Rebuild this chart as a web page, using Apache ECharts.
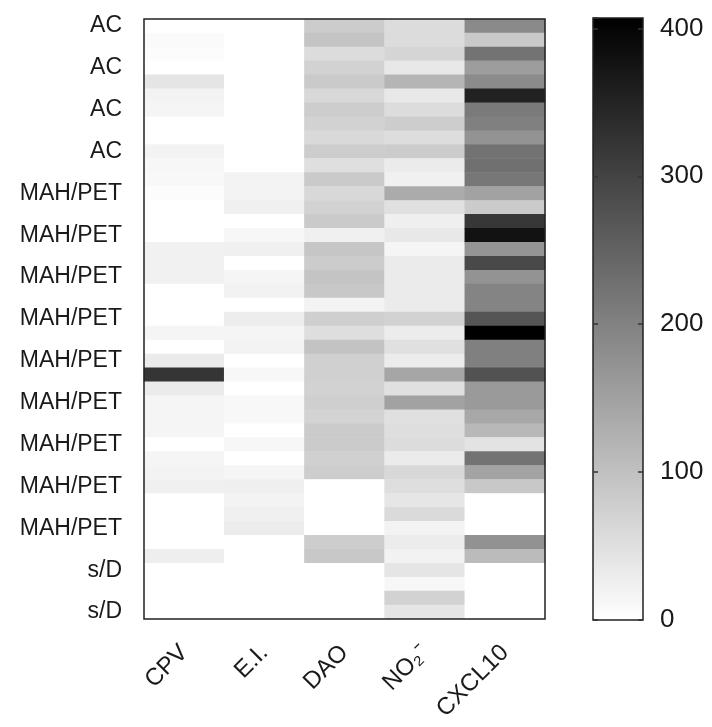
<!DOCTYPE html>
<html>
<head>
<meta charset="utf-8">
<script src="https://cdn.jsdelivr.net/npm/echarts@6/dist/echarts.min.js"></script>
<style>
  html, body { margin: 0; padding: 0; background: #fff; }
  #chart { width: 712px; height: 727px; }
</style>
</head>
<body>
<div id="chart"></div>
<script>
// columns (x axis)
const columns = ['CPV', 'E.I.', 'DAO', 'NO₂⁻', 'CXCL10'];

// 43 samples, top to bottom; only every third name is printed
const rowGroups = [
  'AC', 'AC', 'AC', 'AC', 'AC', 'AC', 'AC', 'AC', 'AC', 'AC', 'AC', 'AC',
  'MAH/PET', 'MAH/PET', 'MAH/PET', 'MAH/PET', 'MAH/PET', 'MAH/PET', 'MAH/PET', 'MAH/PET', 'MAH/PET',
  'MAH/PET', 'MAH/PET', 'MAH/PET', 'MAH/PET', 'MAH/PET', 'MAH/PET', 'MAH/PET', 'MAH/PET', 'MAH/PET',
  'MAH/PET', 'MAH/PET', 'MAH/PET', 'MAH/PET', 'MAH/PET', 'MAH/PET', 'MAH/PET', 'MAH/PET', 'MAH/PET',
  's/D', 's/D', 's/D', 's/D'
];

// values per column, one entry per row
const cpv = [0, 8, 5, 0, 41, 19, 16, 0, 0, 19, 13, 11, 5, 0, 0, 0, 22, 22, 22, 0, 0, 0,
  16, 0, 32, 322, 32, 16, 16, 16, 0, 16, 19, 24, 0, 0, 0, 0, 27, 0, 0, 0, 0];
const ei = [0, 0, 0, 0, 0, 0, 0, 0, 0, 0, 0, 19, 19, 24, 0, 13, 24, 0, 16, 21, 0, 29,
  16, 19, 0, 13, 0, 11, 11, 0, 13, 0, 16, 26, 19, 24, 30, 0, 0, 0, 0, 0, 0];
const dao = [81, 94, 56, 72, 85, 62, 80, 72, 61, 80, 51, 85, 62, 72, 85, 24, 91, 81, 94, 88, 19, 77,
  53, 96, 75, 75, 72, 77, 70, 83, 83, 75, 80, 0, 0, 0, 0, 80, 88, 0, 0, 0, 0];
const no2 = [56, 56, 67, 37, 118, 37, 56, 80, 54, 81, 32, 24, 134, 49, 26, 37, 16, 32, 32, 32, 32, 72,
  30, 49, 30, 142, 49, 148, 49, 53, 56, 32, 62, 53, 40, 59, 19, 30, 21, 41, 13, 72, 41];
const cxcl10 = [187, 86, 223, 156, 185, 353, 212, 203, 172, 225, 228, 217, 148, 83, 319, 378, 169, 290, 172, 196, 196, 271,
  407, 203, 203, 276, 161, 161, 139, 113, 45, 223, 147, 88, 0, 0, 0, 174, 109, 0, 0, 0, 0];

// colour scale
const cbMin = 0;
const cbMax = 407;
const cbTickStep = 100;

const columnValues = [cpv, ei, dao, no2, cxcl10];
const heatData = [];
columnValues.forEach(function (vals, x) {
  vals.forEach(function (v, y) {
    heatData.push([x, y, v]);
  });
});

const textColor = '#1a1a1a';
const fontFamily = "'Liberation Sans', Arial, sans-serif";

const chart = echarts.init(document.getElementById('chart'));
const option = {
  animation: false,
  backgroundColor: '#fff',
  grid: [
    {
      left: 144, top: 19, width: 401, height: 600,
      show: true, z: 10, backgroundColor: 'transparent',
      borderColor: '#222', borderWidth: 1.5
    },
    {
      left: 593, top: 18, width: 50, height: 602,
      show: true, z: 10, backgroundColor: 'transparent',
      borderColor: '#222', borderWidth: 1.5
    }
  ],
  xAxis: [
    {
      type: 'category',
      gridIndex: 0,
      data: columns,
      axisLine: { show: false },
      axisTick: { show: false },
      splitLine: { show: false },
      axisLabel: {
        rotate: 45,
        margin: 30,
        color: textColor,
        fontSize: 24,
        fontFamily: fontFamily
      }
    },
    {
      type: 'category',
      gridIndex: 1,
      data: ['cb'],
      show: false
    }
  ],
  yAxis: [
    {
      type: 'category',
      gridIndex: 0,
      data: rowGroups,
      inverse: true,
      axisLine: { show: false },
      axisTick: { show: false },
      splitLine: { show: false },
      axisLabel: {
        interval: 2,
        margin: 22,
        color: textColor,
        fontSize: 23,
        fontFamily: fontFamily
      }
    },
    {
      type: 'value',
      gridIndex: 1,
      position: 'left',
      min: cbMin,
      max: cbMax,
      interval: cbTickStep,
      z: 10,
      axisLine: { show: false },
      splitLine: { show: false },
      axisTick: { show: true, inside: true, length: 5, lineStyle: { color: '#333', width: 1.5 } },
      axisLabel: { show: false }
    },
    {
      type: 'value',
      gridIndex: 1,
      position: 'right',
      min: cbMin,
      max: cbMax,
      interval: cbTickStep,
      z: 10,
      axisLine: { show: false },
      splitLine: { show: false },
      axisTick: { show: true, inside: true, length: 5, lineStyle: { color: '#333', width: 1.5 } },
      axisLabel: {
        showMaxLabel: false,
        margin: 17,
        color: textColor,
        fontSize: 26,
        fontFamily: fontFamily
      }
    }
  ],
  visualMap: {
    type: 'continuous',
    show: false,
    seriesIndex: 0,
    min: cbMin,
    max: cbMax,
    inRange: { color: ['#ffffff', '#000000'] }
  },
  series: [
    {
      type: 'heatmap',
      xAxisIndex: 0,
      yAxisIndex: 0,
      data: heatData,
      itemStyle: { borderWidth: 0 },
      emphasis: { disabled: true }
    },
    {
      type: 'bar',
      xAxisIndex: 1,
      yAxisIndex: 2,
      barWidth: '100%',
      data: [cbMax],
      silent: true,
      itemStyle: {
        color: new echarts.graphic.LinearGradient(0, 0, 0, 1, [
          { offset: 0, color: '#000000' },
          { offset: 1, color: '#ffffff' }
        ])
      }
    }
  ]
};
chart.setOption(option);
</script>
</body>
</html>
